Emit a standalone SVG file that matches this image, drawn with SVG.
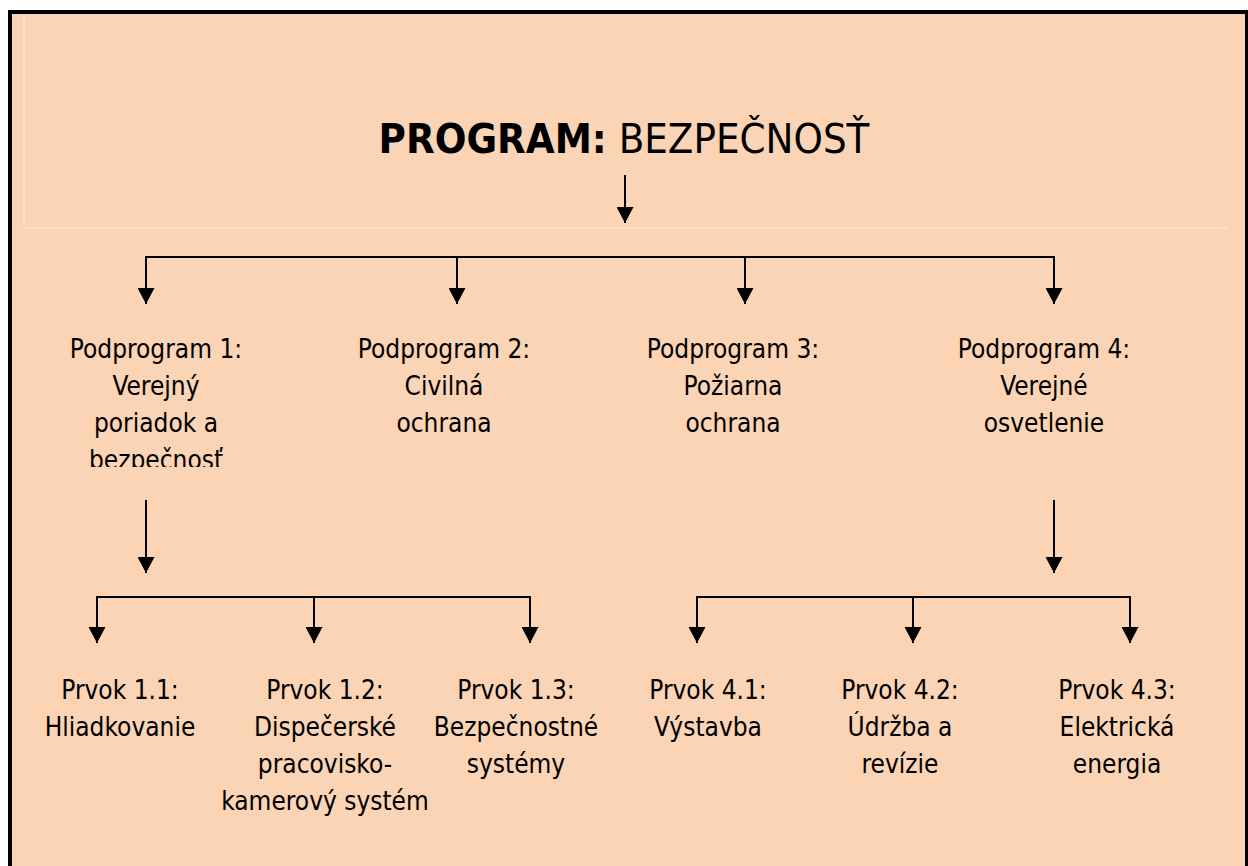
<svg xmlns="http://www.w3.org/2000/svg" width="1248" height="866" viewBox="0 0 1248 866">
  <style>
    .t { font-family: 'DejaVu Sans Condensed', 'DejaVu Sans', sans-serif; font-stretch: condensed; font-size: 26px; fill: #000; text-anchor: middle; }
    .title { font-family: 'DejaVu Sans Condensed', 'DejaVu Sans', sans-serif; font-stretch: condensed; font-size: 41.5px; fill: #000; }
    .c { stroke: #000; stroke-width: 2; fill: none; }
    .faint { stroke: #FCE2CC; stroke-width: 1.5; fill: none; }
  </style>
  <defs>
    <marker id="ah" markerUnits="userSpaceOnUse" markerWidth="16" markerHeight="17" refX="16" refY="8.5" orient="auto" viewBox="0 0 16 17">
      <path d="M0,0 L16,8.5 L0,17 z" fill="#000"/>
    </marker>
    <clipPath id="clip1"><rect x="0" y="0" width="1248" height="467"/></clipPath>
  </defs>
  <rect x="0" y="0" width="1248" height="866" fill="#FFFFFF"/>
  <rect x="10" y="12" width="1237" height="860" fill="#FAD4B4" stroke="#000" stroke-width="4"/>
  <line class="faint" x1="24" y1="14" x2="24" y2="228"/>
  <line class="faint" x1="24" y1="228" x2="1228" y2="228"/>

  <g id="title">
    <text class="title" x="624" y="153" text-anchor="middle"><tspan font-weight="bold">PROGRAM:</tspan> BEZPEČNOSŤ</text>
  </g>

  <g id="connectors">
    <line class="c" x1="625" y1="175" x2="625" y2="223" stroke-width="1.5" marker-end="url(#ah)"/>
    <line class="c" x1="145" y1="257" x2="1055" y2="257"/>
    <line class="c" x1="146" y1="256" x2="146" y2="304" marker-end="url(#ah)"/>
    <line class="c" x1="457" y1="257" x2="457" y2="304" marker-end="url(#ah)"/>
    <line class="c" x1="745" y1="257" x2="745" y2="304" marker-end="url(#ah)"/>
    <line class="c" x1="1054" y1="256" x2="1054" y2="304" marker-end="url(#ah)"/>
    <line class="c" x1="146" y1="500" x2="146" y2="573" marker-end="url(#ah)"/>
    <line class="c" x1="1054" y1="500" x2="1054" y2="573" marker-end="url(#ah)"/>
    <line class="c" x1="96" y1="597" x2="531" y2="597"/>
    <line class="c" x1="97" y1="596" x2="97" y2="643" marker-end="url(#ah)"/>
    <line class="c" x1="314" y1="597" x2="314" y2="643" marker-end="url(#ah)"/>
    <line class="c" x1="530" y1="596" x2="530" y2="643" marker-end="url(#ah)"/>
    <line class="c" x1="696" y1="597" x2="1131" y2="597"/>
    <line class="c" x1="697" y1="596" x2="697" y2="643" marker-end="url(#ah)"/>
    <line class="c" x1="913" y1="597" x2="913" y2="643" marker-end="url(#ah)"/>
    <line class="c" x1="1130" y1="596" x2="1130" y2="643" marker-end="url(#ah)"/>
  </g>

  <g id="podprogram1" clip-path="url(#clip1)">
    <text class="t" x="156" y="358">Podprogram 1:</text>
    <text class="t" x="156" y="395">Verejný</text>
    <text class="t" x="156" y="432">poriadok a</text>
    <text class="t" x="156" y="469">bezpečnosť</text>
  </g>
  <g id="podprogram2">
    <text class="t" x="444" y="358">Podprogram 2:</text>
    <text class="t" x="444" y="395">Civilná</text>
    <text class="t" x="444" y="432">ochrana</text>
  </g>
  <g id="podprogram3">
    <text class="t" x="733" y="358">Podprogram 3:</text>
    <text class="t" x="733" y="395">Požiarna</text>
    <text class="t" x="733" y="432">ochrana</text>
  </g>
  <g id="podprogram4">
    <text class="t" x="1044" y="358">Podprogram 4:</text>
    <text class="t" x="1044" y="395">Verejné</text>
    <text class="t" x="1044" y="432">osvetlenie</text>
  </g>

  <g id="prvok11">
    <text class="t" x="120" y="699">Prvok 1.1:</text>
    <text class="t" x="120" y="736">Hliadkovanie</text>
  </g>
  <g id="prvok12">
    <text class="t" x="325" y="699">Prvok 1.2:</text>
    <text class="t" x="325" y="736">Dispečerské</text>
    <text class="t" x="325" y="773">pracovisko-</text>
    <text class="t" x="325" y="810">kamerový systém</text>
  </g>
  <g id="prvok13">
    <text class="t" x="516" y="699">Prvok 1.3:</text>
    <text class="t" x="516" y="736">Bezpečnostné</text>
    <text class="t" x="516" y="773">systémy</text>
  </g>
  <g id="prvok41">
    <text class="t" x="708" y="699">Prvok 4.1:</text>
    <text class="t" x="708" y="736">Výstavba</text>
  </g>
  <g id="prvok42">
    <text class="t" x="900" y="699">Prvok 4.2:</text>
    <text class="t" x="900" y="736">Údržba a</text>
    <text class="t" x="900" y="773">revízie</text>
  </g>
  <g id="prvok43">
    <text class="t" x="1117" y="699">Prvok 4.3:</text>
    <text class="t" x="1117" y="736">Elektrická</text>
    <text class="t" x="1117" y="773">energia</text>
  </g>
</svg>
